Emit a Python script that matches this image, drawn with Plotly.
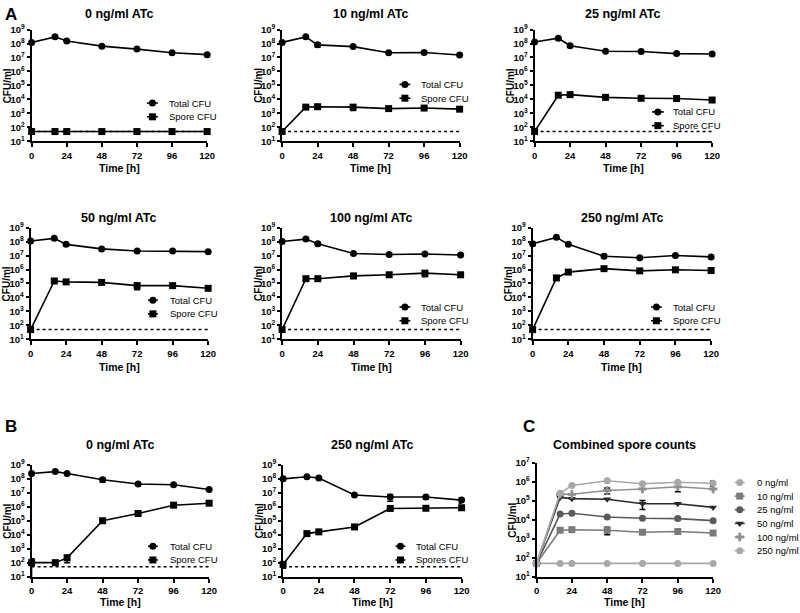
import plotly.graph_objects as go

W, H = 800, 613

# ---------------- data ----------------
time_h = [0, 16, 24, 48, 72, 96, 120]
detection_limit = 50

# Panel A – total CFU per ATc concentration
total_a_0 = [1.2e8, 3.0e8, 1.5e8, 6.5e7, 4.0e7, 2.2e7, 1.6e7]
total_a_10 = [1.2e8, 3.0e8, 8.0e7, 6.0e7, 2.2e7, 2.3e7, 1.5e7]
total_a_25 = [1.3e8, 2.4e8, 7.0e7, 2.8e7, 2.7e7, 1.9e7, 1.8e7]
total_a_50 = [1.1e8, 1.7e8, 6.3e7, 3.0e7, 2.1e7, 2.1e7, 1.9e7]
total_a_100 = [1.0e8, 1.5e8, 7.0e7, 1.4e7, 1.2e7, 1.3e7, 1.1e7]
total_a_250 = [7.0e7, 2.0e8, 6.3e7, 9.0e6, 7.0e6, 1.0e7, 8.0e6]

# Panel A – spore CFU per ATc concentration (also used in panel C)
spore_a_0 = [50, 50, 50, 50, 50, 50, 50]
spore_a_10 = [50, 2.8e3, 3.0e3, 2.8e3, 2.2e3, 2.4e3, 2.0e3]
spore_a_25 = [50, 2.0e4, 2.2e4, 1.4e4, 1.2e4, 1.15e4, 9.0e3]
spore_a_50 = [50, 1.5e5, 1.3e5, 1.2e5, 7.0e4, 7.0e4, 4.5e4]
spore_a_100 = [50, 2.2e5, 2.2e5, 3.5e5, 4.2e5, 5.5e5, 4.2e5]
spore_a_250 = [50, 2.5e5, 6.5e5, 1.15e6, 8.0e5, 9.5e5, 8.5e5]

# error bars (SD)
total_err_a_0 = [0, 0, 0, 0, 0, 0, 0]
total_err_a_10 = [0, 0, 2.5e7, 0, 0, 0, 0]
total_err_a_25 = [0, 0, 1.5e7, 0, 0, 0, 0]
total_err_a_50 = [0, 0, 1.5e7, 0, 0, 0, 0]
total_err_a_100 = [0, 3.0e7, 0, 0, 0, 0, 0]
total_err_a_250 = [2.0e7, 0, 0, 0, 0, 0, 0]
spore_err_a_0 = [0, 0, 0, 0, 0, 0, 0]
spore_err_a_10 = [0, 0, 0, 1.2e3, 0, 0, 0]
spore_err_a_25 = [0, 0, 0, 0, 0, 2.0e3, 0]
spore_err_a_50 = [0, 0, 0, 0, 3.5e4, 0, 0]
spore_err_a_100 = [0, 0, 0, 1.2e5, 0, 2.5e5, 0]
spore_err_a_250 = [0, 0, 0, 0, 0, 0, 2.5e5]

# Panel B
total_b_0 = [2.4e8, 3.3e8, 2.4e8, 8.5e7, 4.3e7, 3.8e7, 1.7e7]
spore_b_0 = [100, 100, 220, 1.0e5, 3.3e5, 1.3e6, 1.8e6]
total_b_250 = [1.0e8, 1.4e8, 1.15e8, 7.0e6, 5.0e6, 5.0e6, 3.0e6]
spore_b_250 = [75, 1.2e4, 1.6e4, 3.6e4, 7.6e5, 7.8e5, 8.5e5]
total_err_b_0 = [0, 0, 0, 2.5e7, 0, 0, 0]
spore_err_b_0 = [92, 0, 120, 0, 0, 0, 0]
total_err_b_250 = [0, 0, 0, 0, 2.5e6, 1.5e6, 1.2e6]
spore_err_b_250 = [35, 0, 0, 0, 0, 0, 0]

conc_labels = ["0 ng/ml", "10 ng/ml", "25 ng/ml", "50 ng/ml", "100 ng/ml", "250 ng/ml"]
spores_all = [spore_a_0, spore_a_10, spore_a_25, spore_a_50, spore_a_100, spore_a_250]
spore_errs_all = [spore_err_a_0, spore_err_a_10, spore_err_a_25, spore_err_a_50,
                  spore_err_a_100, spore_err_a_250]

x_ticks = [0, 24, 48, 72, 96, 120]

# ---------------- layout helpers ----------------
FONT = "Liberation Sans, Arial, sans-serif"
fig = go.Figure()
layout = {}
annotations = []


def ax_name(i, kind):
    return kind + ("" if i == 1 else str(i))


def ann(x, y, text, size, bold=False, xanchor="center", yanchor="middle", angle=0, color="black"):
    annotations.append(dict(
        x=x / W, y=1 - y / H, xref="paper", yref="paper", text=text, showarrow=False,
        xanchor=xanchor, yanchor=yanchor, textangle=angle,
        font=dict(family=FONT, size=size, color=color, weight="bold" if bold else "normal")))


def setup_axes(i, x0, x1, ytop, ybot, ymax_dec):
    xa = ax_name(i, "xaxis")
    ya = ax_name(i, "yaxis")
    ydecs = list(range(1, ymax_dec + 1))
    layout[xa] = dict(
        domain=[x0 / W, x1 / W], anchor=ax_name(i, "y"), range=[0, 120],
        tickvals=x_ticks, ticktext=[str(t) for t in x_ticks],
        ticks="outside", ticklen=4, tickwidth=2, tickcolor="black",
        showline=True, linecolor="black", linewidth=2, showgrid=False, zeroline=False,
        tickfont=dict(family=FONT, size=9.5, color="black", weight="bold"))
    layout[ya] = dict(
        domain=[1 - ybot / H, 1 - ytop / H], anchor=ax_name(i, "x"), type="log",
        range=[1, ymax_dec], tickvals=[10 ** d for d in ydecs],
        ticktext=["10<sup>%d</sup>" % d for d in ydecs],
        ticks="outside", ticklen=3, tickwidth=2, tickcolor="black",
        showline=True, linecolor="black", linewidth=2, showgrid=False, zeroline=False,
        tickfont=dict(family=FONT, size=9.5, color="black", weight="bold"))
    cx = (x0 + x1) / 2
    ann(x0 - 24, (ytop + ybot) / 2, "CFU/ml", 10, bold=True, angle=-90)
    return cx


# legend glyph layer (hidden full-figure axes, pixel coordinates)
LEG = 20
layout["xaxis%d" % LEG] = dict(domain=[0, 1], range=[0, W], visible=False, anchor="y%d" % LEG)
layout["yaxis%d" % LEG] = dict(domain=[0, 1], range=[H, 0], visible=False, anchor="x%d" % LEG)


def legend_entry(lx0, lx1, ly, text_x, text, color, symbol, msize):
    fig.add_trace(go.Scatter(
        x=[lx0, lx1], y=[ly, ly], mode="lines",
        line=dict(color=color, width=1.6),
        xaxis="x%d" % LEG, yaxis="y%d" % LEG, showlegend=False, hoverinfo="skip"))
    fig.add_trace(go.Scatter(
        x=[(lx0 + lx1) / 2], y=[ly], mode="markers",
        marker=dict(symbol=symbol, size=msize, color=color, line=dict(width=0)),
        xaxis="x%d" % LEG, yaxis="y%d" % LEG, showlegend=False, hoverinfo="skip"))
    ann(text_x, ly, text, 9.5, xanchor="left")


def err(arr):
    return dict(type="data", array=arr, visible=True, color="black", thickness=1.5, width=3)


def add_cfu_panel(i, title, x0, x1, ytop, ybot, total, terr, spore, serr,
                  leg, spore_name="Spore CFU", title_y=None, time_y=None):
    cx = setup_axes(i, x0, x1, ytop, ybot, 9)
    xa, ya = ax_name(i, "x"), ax_name(i, "y")
    fig.add_trace(go.Scatter(
        x=[time_h[0], time_h[-1]], y=[detection_limit, detection_limit], mode="lines",
        line=dict(color="black", width=1.5, dash="dot"), xaxis=xa, yaxis=ya,
        showlegend=False, hoverinfo="skip"))
    fig.add_trace(go.Scatter(
        x=time_h, y=spore, mode="lines+markers", error_y=err(serr),
        line=dict(color="black", width=1.6),
        marker=dict(symbol="square", size=7, color="black"),
        xaxis=xa, yaxis=ya, showlegend=False, cliponaxis=False))
    fig.add_trace(go.Scatter(
        x=time_h, y=total, mode="lines+markers", error_y=err(terr),
        line=dict(color="black", width=1.6),
        marker=dict(symbol="circle", size=7, color="black"),
        xaxis=xa, yaxis=ya, showlegend=False, cliponaxis=False))
    ann(cx, title_y, title, 12.5, bold=True)
    ann(cx, time_y, "Time [h]", 10.5, bold=True)
    lx0, lx1, tx, ly1, ly2 = leg
    legend_entry(lx0, lx1, ly1, tx, "Total CFU", "black", "circle", 7)
    legend_entry(lx0, lx1, ly2, tx, spore_name, "black", "square", 7)


# ---------------- panel A ----------------
R1 = (23, 137, 7, 164)
R2 = (225, 339, 215, 367)
add_cfu_panel(1, "0 ng/ml ATc", 29, 207, R1[0], R1[1], total_a_0, total_err_a_0,
              spore_a_0, spore_err_a_0, (146, 157, 166, 98, 112), title_y=R1[2], time_y=R1[3])
add_cfu_panel(2, "10 ng/ml ATc", 283, 463, R1[0], R1[1], total_a_10, total_err_a_10,
              spore_a_10, spore_err_a_10, (402, 413, 422, 79, 93), title_y=R1[2], time_y=R1[3])
add_cfu_panel(3, "25 ng/ml ATc", 539, 719, R1[0], R1[1], total_a_25, total_err_a_25,
              spore_a_25, spore_err_a_25, (658, 670, 677, 107, 121), title_y=R1[2], time_y=R1[3])
add_cfu_panel(4, "50 ng/ml ATc", 28, 208, R2[0], R2[1], total_a_50, total_err_a_50,
              spore_a_50, spore_err_a_50, (147, 157, 167, 299, 313), title_y=R2[2], time_y=R2[3])
add_cfu_panel(5, "100 ng/ml ATc", 283, 464, R2[0], R2[1], total_a_100, total_err_a_100,
              spore_a_100, spore_err_a_100, (402, 413, 422, 306, 320), title_y=R2[2], time_y=R2[3])
add_cfu_panel(6, "250 ng/ml ATc", 537, 718, R2[0], R2[1], total_a_250, total_err_a_250,
              spore_a_250, spore_err_a_250, (657, 668, 677, 306, 320), title_y=R2[2], time_y=R2[3])

# ---------------- panel B ----------------
R3 = (467, 581, 447, 607)
add_cfu_panel(7, "0 ng/ml ATc", 29, 209, R3[0], R3[1], total_b_0, total_err_b_0,
              spore_b_0, spore_err_b_0, (147, 157, 167, 550, 564), title_y=R3[2], time_y=R3[3])
add_cfu_panel(8, "250 ng/ml ATc", 284, 465, R3[0], R3[1], total_b_250, total_err_b_250,
              spore_b_250, spore_err_b_250, (398, 408, 417, 550, 564),
              spore_name="Spores CFU", title_y=R3[2], time_y=R3[3])

# ---------------- panel C ----------------
c_colors = ["#a8a8a8", "#7a7a7a", "#5a5a5a", "#2a2a2a", "#909090", "#a8a8a8"]
c_symbols = ["circle", "square", "circle", "triangle-down", "cross", "circle"]
cx = setup_axes(9, 541, 720, 465, 581, 7)
for lbl, vals, errs, col, sym in zip(conc_labels, spores_all, spore_errs_all, c_colors, c_symbols):
    fig.add_trace(go.Scatter(
        x=time_h, y=vals, mode="lines+markers", name=lbl,
        error_y=dict(type="data", array=errs, visible=True, color="black", thickness=1.5, width=3),
        line=dict(color=col, width=1.6),
        marker=dict(symbol=sym, size=7, color=col, line=dict(width=0)),
        xaxis="x9", yaxis="y9", showlegend=False, cliponaxis=False))
ann(cx, 447, "Combined spore counts", 12.5, bold=True)
ann(cx, 607, "Time [h]", 10.5, bold=True)
for k, (lbl, col, sym) in enumerate(zip(conc_labels, c_colors, c_symbols)):
    legend_entry(742, 752, 485 + k * 13.9, 762, lbl, col, sym, 7)

# panel letters
ann(8, 8, "A", 17, bold=True)
ann(8, 428, "B", 17, bold=True)
ann(533, 428, "C", 17, bold=True)

fig.update_layout(
    width=W, height=H, margin=dict(l=0, r=0, t=0, b=0),
    paper_bgcolor="white", plot_bgcolor="rgba(0,0,0,0)",
    showlegend=False, annotations=annotations, **layout)

fig.write_html("out.html", config={"displayModeBar": False},
               post_script="document.body.style.margin='0px';")
